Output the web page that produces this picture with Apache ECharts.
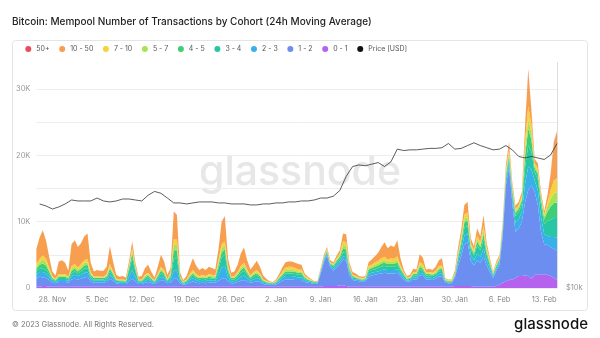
<!DOCTYPE html>
<html><head><meta charset="utf-8">
<script src="https://cdn.jsdelivr.net/npm/echarts@6/dist/echarts.min.js"></script>
<style>html,body{margin:0;padding:0;background:#fff}#c{width:600px;height:338px}</style>
</head><body><div id="c"></div>
<script>
// values in thousands of transactions, 12-hour steps from 25 Nov 2022 12:00 UTC
const c0_1 = [
0.2,0.2,0.3,0.3,0.2,0.2,0.2,0.2,0.2,0.2, 0.2,0.2,0.2,0.2,0.2,0.2,0.2,0.2,0.2,0.2,
0.2,0.2,0.2,0.2,0.2,0.2,0.2,0.2,0.2,0.2, 0.2,0.2,0.2,0.2,0.2,0.2,0.2,0.2,0.2,0.2,
0.2,0.2,0.2,0.2,0.2,0.2,0.2,0.2,0.2,0.2, 0.2,0.2,0.2,0.2,0.2,0.2,0.2,0.2,0.2,0.2,
0.2,0.2,0.2,0.2,0.2,0.2,0.2,0.2,0.2,0.2, 0.2,0.2,0.2,0.2,0.2,0.2,0.2,0.2,0.2,0.2,
0.2,0.2,0.2,0.2,0.2,0.2,0.2,0.2,0.2,0.2, 0.3,0.3,0.3,0.3,0.3,0.4,0.4,0.3,0.2,0.2,
0.2,0.2,0.2,0.2,0.2,0.2,0.2,0.2,0.2,0.2, 0.2,0.2,0.2,0.2,0.2,0.2,0.2,0.2,0.2,0.2,
0.2,0.2,0.2,0.2,0.2,0.2,0.2,0.2,0.2,0.2, 0.2,0.3,0.3,0.3,0.3,0.3,0.3,0.2,0.2,0.2,
0.2,0.2,0.2,0.2,0.3,0.5,0.8,1.0,1.2,1.3, 1.5,1.8,1.8,1.9,1.8,1.4,2.0,2.0,2.0,2.0,
2.0,1.8,1.5,1.3];
const c1_2 = [
1.3,1.5,1.3,1.2,1.0,0.6,0.5,0.7,0.7,0.7, 0.6,1.1,1.2,1.1,1.2,1.4,1.5,0.8,0.6,0.6,
0.6,0.6,0.7,1.2,0.9,0.5,0.4,0.4,0.4,0.8, 1.2,0.8,0.4,0.4,0.6,0.7,0.5,0.4,0.7,1.0,
0.9,0.5,0.6,1.2,1.2,0.5,0.3,0.4,0.6,0.8, 0.6,0.5,0.6,0.5,0.6,0.6,0.6,0.9,1.2,1.3,
0.8,0.5,0.5,0.7,0.9,1.0,0.8,0.6,0.7,0.8, 0.7,0.4,0.3,0.3,0.3,0.3,0.6,0.9,1.1,1.1,
1.1,1.0,1.0,1.0,0.7,0.6,0.5,0.4,0.4,2.0, 3.6,4.6,2.8,2.3,2.8,3.2,3.9,3.8,1.8,1.0,
0.9,0.8,0.8,0.8,1.5,1.7,1.8,1.9,2.0,2.1, 2.0,2.0,2.0,2.1,1.6,1.1,0.7,0.8,1.1,1.1,
1.7,1.6,1.1,1.1,1.0,1.2,1.5,1.6,0.6,0.5, 0.5,1.2,3.0,4.5,6.3,6.6,3.8,3.2,4.0,3.6,
4.5,3.2,2.2,1.3,2.3,3.0,7.0,14.5,17.0,11.5, 7.0,7.2,8.2,11.0,13.0,14.0,12.5,10.5,6.5,4.6,
4.5,4.4,4.4,4.3];
const c2_3 = [
0.5,0.7,0.8,0.7,0.5,0.3,0.2,0.3,0.3,0.3, 0.3,0.5,0.6,0.5,0.6,0.7,0.7,0.4,0.3,0.3,
0.3,0.3,0.3,0.6,0.4,0.2,0.2,0.2,0.2,0.7, 1.3,0.7,0.2,0.2,0.3,0.4,0.3,0.2,0.4,0.5,
0.4,0.2,0.4,1.2,1.2,0.3,0.1,0.2,0.4,0.5, 0.4,0.3,0.3,0.3,0.4,0.3,0.3,0.9,1.6,1.8,
0.7,0.3,0.3,0.4,0.6,0.7,0.5,0.3,0.4,0.5, 0.4,0.2,0.2,0.1,0.1,0.2,0.3,0.4,0.5,0.5,
0.5,0.5,0.4,0.4,0.3,0.2,0.2,0.1,0.1,0.2, 0.3,0.3,0.3,0.3,0.4,0.4,0.5,0.5,0.3,0.2,
0.2,0.2,0.1,0.2,0.4,0.4,0.4,0.4,0.5,0.5, 0.5,0.5,0.5,0.5,0.4,0.3,0.2,0.2,0.3,0.3,
0.4,0.4,0.3,0.3,0.3,0.3,0.4,0.4,0.2,0.1, 0.1,0.2,0.6,0.9,1.3,1.3,0.9,0.8,1.0,0.9,
1.2,0.8,0.5,0.3,0.3,0.4,0.6,0.7,0.7,1.0, 1.3,1.4,1.5,2.8,3.5,2.5,1.8,2.2,2.2,1.5,
1.4,1.5,1.8,2.0];
const c3_4 = [
0.5,0.6,0.5,0.5,0.4,0.2,0.2,0.3,0.3,0.3, 0.2,0.4,0.5,0.4,0.5,0.6,0.6,0.3,0.2,0.2,
0.2,0.2,0.3,0.5,0.3,0.2,0.2,0.2,0.1,0.9, 1.8,0.8,0.2,0.2,0.3,0.3,0.2,0.1,0.3,0.5,
0.4,0.2,0.4,1.8,1.8,0.3,0.1,0.2,0.3,0.4, 0.3,0.3,0.3,0.3,0.3,0.3,0.3,0.9,1.6,1.7,
0.7,0.3,0.3,0.4,0.6,0.7,0.5,0.3,0.4,0.4, 0.3,0.2,0.1,0.1,0.1,0.1,0.2,0.3,0.4,0.4,
0.4,0.4,0.4,0.4,0.2,0.2,0.1,0.1,0.1,0.1, 0.2,0.2,0.2,0.3,0.4,0.4,0.6,0.6,0.3,0.2,
0.2,0.1,0.1,0.1,0.4,0.4,0.4,0.5,0.5,0.5, 0.5,0.5,0.5,0.6,0.4,0.3,0.2,0.2,0.3,0.3,
0.5,0.4,0.3,0.3,0.3,0.3,0.4,0.4,0.1,0.1, 0.1,0.2,0.5,0.8,1.2,1.2,0.8,0.7,1.2,1.0,
1.4,0.8,0.5,0.2,0.3,0.3,0.4,0.5,0.6,0.7, 1.0,1.0,1.1,2.5,3.2,2.6,1.2,1.7,1.8,1.5,
2.2,2.6,2.8,3.0];
const c4_5 = [
0.4,0.5,0.8,0.7,0.4,0.2,0.1,0.2,0.2,0.2, 0.2,0.4,0.4,0.3,0.4,0.5,0.5,0.3,0.2,0.2,
0.2,0.2,0.2,0.4,0.3,0.1,0.1,0.1,0.1,0.4, 0.7,0.4,0.1,0.1,0.2,0.3,0.2,0.1,0.2,0.4,
0.3,0.1,0.3,1.3,1.3,0.2,0.1,0.1,0.2,0.3, 0.2,0.2,0.2,0.2,0.2,0.2,0.2,0.5,0.8,0.8,
0.4,0.2,0.2,0.3,0.4,0.5,0.3,0.2,0.3,0.3, 0.2,0.1,0.1,0.1,0.0,0.1,0.2,0.2,0.3,0.3,
0.3,0.3,0.3,0.3,0.2,0.1,0.1,0.1,0.1,0.1, 0.1,0.2,0.1,0.2,0.2,0.3,0.6,0.6,0.3,0.2,
0.1,0.1,0.1,0.1,0.3,0.3,0.4,0.4,0.5,0.5, 0.4,0.5,0.4,0.5,0.3,0.2,0.1,0.1,0.2,0.2,
0.4,0.3,0.2,0.2,0.2,0.2,0.3,0.3,0.1,0.1, 0.1,0.1,0.3,0.5,0.8,0.8,0.4,0.3,0.6,0.5,
0.8,0.4,0.3,0.1,0.2,0.2,0.3,0.4,0.5,0.4, 0.5,0.5,0.6,1.7,2.5,1.8,0.6,0.8,0.8,0.8,
1.4,2.0,2.3,2.3];
const c5_7 = [
0.3,0.4,0.6,0.5,0.3,0.1,0.1,0.2,0.2,0.2, 0.1,0.3,0.3,0.3,0.3,0.4,0.4,0.2,0.1,0.1,
0.1,0.1,0.2,0.3,0.2,0.1,0.1,0.1,0.1,0.2, 0.4,0.2,0.1,0.1,0.2,0.2,0.1,0.1,0.2,0.3,
0.2,0.1,0.2,0.9,0.9,0.1,0.1,0.1,0.2,0.2, 0.2,0.1,0.2,0.1,0.2,0.2,0.1,0.4,0.6,0.6,
0.3,0.1,0.1,0.2,0.3,0.3,0.2,0.1,0.2,0.2, 0.2,0.1,0.1,0.0,0.0,0.1,0.1,0.2,0.2,0.3,
0.3,0.2,0.2,0.2,0.1,0.1,0.1,0.0,0.0,0.1, 0.1,0.1,0.1,0.1,0.2,0.2,0.5,0.5,0.2,0.1,
0.1,0.1,0.1,0.1,0.2,0.2,0.3,0.3,0.3,0.4, 0.3,0.3,0.3,0.4,0.2,0.1,0.1,0.1,0.1,0.1,
0.3,0.3,0.1,0.1,0.1,0.2,0.2,0.2,0.1,0.1, 0.1,0.1,0.2,0.3,0.5,0.5,0.3,0.2,0.4,0.3,
0.6,0.3,0.2,0.1,0.1,0.1,0.2,0.3,0.4,0.3, 0.3,0.3,0.4,1.1,1.5,1.1,0.4,0.4,0.4,0.4,
0.8,1.2,1.5,1.5];
const c7_10 = [
0.4,0.5,0.6,0.5,0.3,0.2,0.1,0.2,0.2,0.2, 0.1,0.4,0.4,0.3,0.4,0.4,0.5,0.2,0.1,0.2,
0.1,0.1,0.2,0.4,0.2,0.1,0.1,0.1,0.1,0.2, 0.4,0.2,0.1,0.1,0.2,0.2,0.1,0.1,0.2,0.3,
0.3,0.1,0.2,0.7,0.7,0.1,0.1,0.1,0.2,0.3, 0.2,0.2,0.2,0.2,0.2,0.2,0.2,0.4,0.6,0.6,
0.3,0.1,0.2,0.2,0.3,0.4,0.3,0.2,0.2,0.3, 0.2,0.1,0.1,0.1,0.1,0.1,0.1,0.3,0.4,0.4,
0.4,0.4,0.3,0.3,0.2,0.1,0.1,0.0,0.1,0.1, 0.1,0.2,0.1,0.1,0.2,0.3,0.6,0.6,0.2,0.1,
0.1,0.1,0.1,0.1,0.3,0.3,0.4,0.4,0.5,0.5, 0.4,0.5,0.5,0.5,0.3,0.2,0.1,0.1,0.2,0.2,
0.4,0.4,0.2,0.2,0.2,0.2,0.3,0.3,0.1,0.1, 0.1,0.1,0.3,0.5,0.7,0.7,0.3,0.3,0.5,0.4,
0.7,0.4,0.2,0.1,0.2,0.2,0.2,0.4,0.5,0.3, 0.3,0.3,0.3,1.2,1.9,1.2,0.3,0.4,0.3,0.3,
0.6,1.2,1.9,2.2];
const c10_50 = [
2.3,3.2,3.8,2.8,1.6,0.7,0.5,1.9,2.1,1.7, 0.9,3.3,3.6,3.1,3.2,3.6,3.8,1.4,0.8,0.9,
0.9,0.9,1.1,2.7,1.5,0.6,0.4,0.5,0.4,0.6, 1.0,0.5,0.4,0.5,1.0,1.2,0.8,0.4,1.0,1.8,
1.3,0.6,0.7,4.1,3.6,0.6,0.2,0.5,1.1,1.8, 1.3,0.9,1.0,0.9,1.1,1.0,0.9,1.6,3.3,3.7,
1.1,0.6,0.7,1.1,1.9,2.3,1.4,0.9,1.0,1.4, 1.0,0.6,0.3,0.1,0.1,0.2,0.4,0.6,0.8,0.8,
0.8,0.8,0.8,0.7,0.3,0.2,0.1,0.1,0.1,0.2, 0.3,0.3,0.3,0.3,0.4,0.5,1.1,1.2,0.5,0.4,
0.4,0.2,0.2,0.2,0.6,0.8,0.9,1.2,1.7,2.2, 1.7,1.9,1.8,2.4,1.1,0.4,0.2,0.3,0.5,0.4,
1.2,1.0,0.4,0.5,0.4,0.6,0.9,1.1,0.1,0.1, 0.1,0.4,0.8,1.0,1.4,1.6,0.7,0.6,1.1,0.9,
1.6,0.7,0.4,0.2,0.3,0.3,0.5,0.8,1.1,0.5, 0.5,0.5,0.6,2.2,5.4,2.1,0.7,0.8,0.5,0.5,
1.1,2.4,5.6,7.0];
const c50p = [
0,0,0,0,0,0,0,0,0,0, 0,0,0,0,0,0,0,0,0,0,
0,0,0,0,0,0,0,0,0,0, 0,0,0,0,0,0,0,0,0,0,
0,0,0,0.1,0.1,0,0,0,0,0, 0,0,0,0,0,0,0,0,0.1,0.1,
0,0,0,0,0,0,0,0,0,0, 0,0,0,0,0,0,0,0,0,0,
0,0,0,0,0,0,0,0,0,0, 0,0,0,0,0,0,0,0,0,0,
0,0,0,0,0,0,0,0,0,0, 0,0,0,0,0,0,0,0,0,0,
0,0,0,0,0,0,0,0,0,0, 0,0,0,0,0,0,0,0,0,0,
0,0,0,0,0,0,0,0,0,0, 0,0,0,0.1,0.2,0.1,0,0,0,0,
0,0.1,0.2,0.2];
// BTC price in thousand USD, daily from 26 Nov 2022 00:00 UTC
const priceK = [
16.6,16.4,16.1,16.3,16.6,17.0,16.9,16.9,16.9,17.2,
16.9,16.8,16.9,17.1,17.1,17.0,16.9,17.5,17.9,17.7,
17.2,16.7,16.7,16.6,16.7,16.8,16.8,16.8,16.7,16.7,
16.6,16.6,16.6,16.5,16.5,16.6,16.6,16.7,16.7,16.8,
16.8,16.9,16.9,17.0,17.2,17.2,17.4,18.0,19.6,20.8,
21.0,20.9,21.1,21.3,20.8,21.4,23.1,22.9,23.0,23.0,
23.1,23.2,23.2,23.3,23.9,23.1,23.2,23.6,24.0,23.6,
23.3,23.0,23.1,23.6,23.0,22.1,21.9,22.1,21.9,21.7,
22.3,23.9];
const tickLabels = ['28. Nov','5. Dec','12. Dec','19. Dec','26. Dec','2. Jan','9. Jan','16. Jan','23. Jan','30. Jan','6. Feb','13. Feb'];
const yTickLabels = ['0','10K','20K','30K'];
const cohortNames = ['0 - 1','1 - 2','2 - 3','3 - 4','4 - 5','5 - 7','7 - 10','10 - 50','50+'];
const cohortColors = ['#b563ef','#6c8ef0','#38b0ea','#27c6a6','#3ccf78','#a8e255','#f6d33c','#f79f4e','#ec4b58'];
const legendOrder = ['50+','10 - 50','7 - 10','5 - 7','4 - 5','3 - 4','2 - 3','1 - 2','0 - 1','Price [USD]'];

const cohortData = [c0_1,c1_2,c2_3,c3_4,c4_5,c5_7,c7_10,c10_50,c50p];
const MONTHS=['Jan','Feb','Mar','Apr','May','Jun','Jul','Aug','Sep','Oct','Nov','Dec'];
const START=Date.UTC(2022,10,25,12), STEP=12*3600*1000;
const categories = c0_1.map((_,i)=>{const d=new Date(START+i*STEP);return d.getUTCDate()+'. '+MONTHS[d.getUTCMonth()]+(d.getUTCHours()?' 12h':'');});
const priceSeries = categories.map(()=>null);
priceK.forEach((p,k)=>{priceSeries[2*k+1]=p;});

const FONT='Inter, Roboto, "Noto Sans", sans-serif';
const chart = echarts.init(document.getElementById('c'), null, {renderer:'canvas'});
const series = cohortData.map((arr,i)=>({
  name:cohortNames[i], type:'line', stack:'total', data:arr, symbol:'none',
  lineStyle:{width:0}, areaStyle:{opacity:1, color:cohortColors[i]}, itemStyle:{color:cohortColors[i]},
  emphasis:{disabled:true}, z:2
}));
series.push({name:'Price [USD]', type:'line', yAxisIndex:1, data:priceSeries, connectNulls:true, symbol:'none',
  lineStyle:{width:0.8, color:'#333'}, itemStyle:{color:'#111'}, emphasis:{disabled:true}, z:5});

chart.setOption({
  animation:false,
  textStyle:{fontFamily:FONT},
  title:{text:'Bitcoin: Mempool Number of Transactions by Cohort (24h Moving Average)', left:12, top:16.5, padding:0,
    textStyle:{fontSize:10, fontWeight:500, color:'#222', fontFamily:FONT}},
  legend:{data:legendOrder, top:45.5, left:25.3, padding:0, icon:'circle', itemWidth:6, itemHeight:6, itemGap:9.6,
    textStyle:{fontSize:7, color:'#555', fontFamily:FONT}},
  grid:{left:36.4, right:43, top:62.5, bottom:50},
  xAxis:{type:'category', data:categories, boundaryGap:false, axisLine:{show:false}, axisTick:{show:false},
    splitLine:{show:false},
    axisLabel:{interval:(i,v)=>tickLabels.includes(v), color:'#888', fontSize:7.5, margin:8, fontFamily:FONT}},
  yAxis:[
    {type:'value', min:0, max:34, interval:5, axisLine:{show:false}, axisTick:{show:false},
     splitLine:{show:true, showMaxLine:false, lineStyle:{color:'#ededed', width:1}},
     axisLabel:{formatter:v=>{const k=Math.round(v/10); return (v%10===0 && k<yTickLabels.length)?yTickLabels[k]:'';}, color:'#999', fontSize:7.5, margin:6, showMaxLabel:false, fontFamily:FONT}},
    {type:'log', logBase:10, min:10, max:38.94, position:'right', axisTick:{show:false},
     axisLine:{show:true, lineStyle:{color:'#dddddd', width:1}}, splitLine:{show:false},
     axisLabel:{formatter:v=>Math.abs(v-10)<1e-6?'$10k':'', color:'#999', fontSize:7.5, margin:9, showMaxLabel:false, fontFamily:FONT}}
  ],
  graphic:[
    {type:'rect', z:-20, shape:{x:12.5, y:40.5, width:575, height:270, r:3}, style:{fill:'none', stroke:'#e4e4e4', lineWidth:1}},
    {type:'text', z:-10, x:300, y:173, style:{text:'glassnode', fill:'#e7e7e7', font:'500 41px '+FONT, align:'center', verticalAlign:'middle'}},
    {type:'text', x:12, y:325, style:{text:'© 2023 Glassnode. All Rights Reserved.', fill:'#777', font:'7.5px '+FONT, align:'left', verticalAlign:'middle'}},
    {type:'text', x:588, y:324, style:{text:'glassnode', fill:'#111', font:'500 15px '+FONT, align:'right', verticalAlign:'middle'}}
  ],
  series:series
});
</script></body></html>
